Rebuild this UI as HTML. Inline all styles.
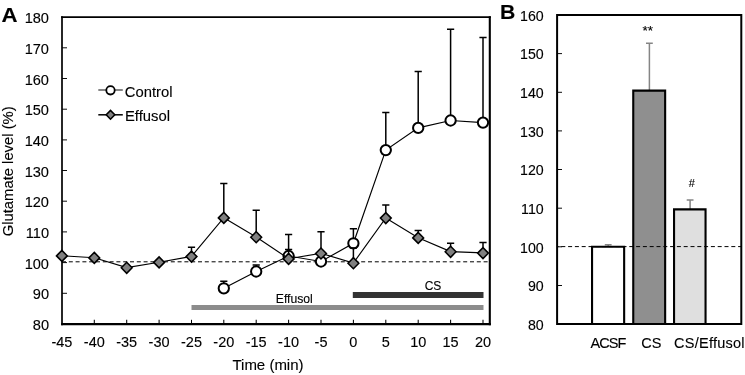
<!DOCTYPE html>
<html><head><meta charset="utf-8"><title>Glutamate level</title>
<style>
html,body{margin:0;padding:0;background:#fff;}
body{width:745px;height:375px;overflow:hidden;}
svg{display:block;}
text{font-family:"Liberation Sans",sans-serif;fill:#000;stroke:#000;stroke-width:0.12px;}
</style></head><body>
<svg width="745" height="375" viewBox="0 0 745 375">
<rect width="745" height="375" fill="#fff"/>
<g id="panelA">
<rect x="191.5" y="305" width="292" height="5" fill="#8c8c8c"/>
<rect x="352.8" y="292" width="130.7" height="6" fill="#333"/>
<text x="433" y="290" font-size="12" text-anchor="middle">CS</text>
<text x="294.3" y="302.6" font-size="12.2" text-anchor="middle">Effusol</text>
<line x1="62" y1="261.8" x2="489" y2="261.8" stroke="#000" stroke-width="1" stroke-dasharray="4,2.8"/>
<line x1="62" y1="293.3" x2="67" y2="293.3" stroke="#000" stroke-width="0.95"/>
<line x1="62" y1="262.6" x2="67" y2="262.6" stroke="#000" stroke-width="0.95"/>
<line x1="62" y1="231.9" x2="67" y2="231.9" stroke="#000" stroke-width="0.95"/>
<line x1="62" y1="201.2" x2="67" y2="201.2" stroke="#000" stroke-width="0.95"/>
<line x1="62" y1="170.5" x2="67" y2="170.5" stroke="#000" stroke-width="0.95"/>
<line x1="62" y1="139.9" x2="67" y2="139.9" stroke="#000" stroke-width="0.95"/>
<line x1="62" y1="109.2" x2="67" y2="109.2" stroke="#000" stroke-width="0.95"/>
<line x1="62" y1="78.5" x2="67" y2="78.5" stroke="#000" stroke-width="0.95"/>
<line x1="62" y1="47.8" x2="67" y2="47.8" stroke="#000" stroke-width="0.95"/>
<line x1="94.3" y1="324" x2="94.3" y2="319.8" stroke="#000" stroke-width="1.05"/>
<line x1="126.7" y1="324" x2="126.7" y2="319.8" stroke="#000" stroke-width="1.05"/>
<line x1="159.1" y1="324" x2="159.1" y2="319.8" stroke="#000" stroke-width="1.05"/>
<line x1="191.5" y1="324" x2="191.5" y2="319.8" stroke="#000" stroke-width="1.05"/>
<line x1="223.8" y1="324" x2="223.8" y2="319.8" stroke="#000" stroke-width="1.05"/>
<line x1="256.2" y1="324" x2="256.2" y2="319.8" stroke="#000" stroke-width="1.05"/>
<line x1="288.6" y1="324" x2="288.6" y2="319.8" stroke="#000" stroke-width="1.05"/>
<line x1="321.0" y1="324" x2="321.0" y2="319.8" stroke="#000" stroke-width="1.05"/>
<line x1="353.4" y1="324" x2="353.4" y2="319.8" stroke="#000" stroke-width="1.05"/>
<line x1="385.8" y1="324" x2="385.8" y2="319.8" stroke="#000" stroke-width="1.05"/>
<line x1="418.2" y1="324" x2="418.2" y2="319.8" stroke="#000" stroke-width="1.05"/>
<line x1="450.6" y1="324" x2="450.6" y2="319.8" stroke="#000" stroke-width="1.05"/>
<line x1="483.0" y1="324" x2="483.0" y2="319.8" stroke="#000" stroke-width="1.05"/>
<path d="M62,16.3 V325.2" fill="none" stroke="#000" stroke-width="1.7"/><path d="M61.15,17.1 H490.85" fill="none" stroke="#000" stroke-width="1.6"/><path d="M61.15,324.15 H490.85" fill="none" stroke="#000" stroke-width="2.1"/><path d="M489.8,16.3 V325.2" fill="none" stroke="#000" stroke-width="2.1"/>
<path d="M223.8,288.3 V281.2 M220.2,281.2 H227.4" fill="none" stroke="#000" stroke-width="1.5"/>
<path d="M256.2,271.5 V265.1 M252.6,265.1 H259.8" fill="none" stroke="#000" stroke-width="1.5"/>
<path d="M288.6,256.0 V249.6 M285.0,249.6 H292.2" fill="none" stroke="#000" stroke-width="1.5"/>
<path d="M353.4,243.3 V228.7 M349.8,228.7 H357.0" fill="none" stroke="#000" stroke-width="1.5"/>
<path d="M385.8,150.1 V112.6 M382.2,112.6 H389.4" fill="none" stroke="#000" stroke-width="1.5"/>
<path d="M418.2,127.9 V71.6 M414.6,71.6 H421.8" fill="none" stroke="#000" stroke-width="1.5"/>
<path d="M450.6,120.5 V29.3 M447.0,29.3 H454.2" fill="none" stroke="#000" stroke-width="1.5"/>
<path d="M483.0,122.6 V37.5 M479.4,37.5 H486.6" fill="none" stroke="#000" stroke-width="1.5"/>
<polyline points="223.8,288.3 256.2,271.5 288.6,256.0 321.0,261.5 353.4,243.3 385.8,150.1 418.2,127.9 450.6,120.5 483.0,122.6" fill="none" stroke="#000" stroke-width="1.15"/>
<circle cx="223.8" cy="288.3" r="5.15" fill="#fff" stroke="#000" stroke-width="2"/>
<circle cx="256.2" cy="271.5" r="5.15" fill="#fff" stroke="#000" stroke-width="2"/>
<circle cx="288.6" cy="256.0" r="5.15" fill="#fff" stroke="#000" stroke-width="2"/>
<circle cx="321.0" cy="261.5" r="5.15" fill="#fff" stroke="#000" stroke-width="2"/>
<circle cx="353.4" cy="243.3" r="5.15" fill="#fff" stroke="#000" stroke-width="2"/>
<circle cx="385.8" cy="150.1" r="5.15" fill="#fff" stroke="#000" stroke-width="2"/>
<circle cx="418.2" cy="127.9" r="5.15" fill="#fff" stroke="#000" stroke-width="2"/>
<circle cx="450.6" cy="120.5" r="5.15" fill="#fff" stroke="#000" stroke-width="2"/>
<circle cx="483.0" cy="122.6" r="5.15" fill="#fff" stroke="#000" stroke-width="2"/>
<path d="M191.5,256.4 V247.3 M187.9,247.3 H195.1" fill="none" stroke="#000" stroke-width="1.5"/>
<path d="M223.8,217.7 V183.5 M220.2,183.5 H227.4" fill="none" stroke="#000" stroke-width="1.5"/>
<path d="M256.2,237.0 V210.2 M252.6,210.2 H259.8" fill="none" stroke="#000" stroke-width="1.5"/>
<path d="M288.6,258.7 V234.5 M285.0,234.5 H292.2" fill="none" stroke="#000" stroke-width="1.5"/>
<path d="M321.0,253.3 V231.7 M317.4,231.7 H324.6" fill="none" stroke="#000" stroke-width="1.5"/>
<path d="M353.4,263.0 V248.0 M349.8,248.0 H357.0" fill="none" stroke="#000" stroke-width="1.5"/>
<path d="M385.8,217.9 V205.0 M382.2,205.0 H389.4" fill="none" stroke="#000" stroke-width="1.5"/>
<path d="M418.2,237.7 V230.4 M414.6,230.4 H421.8" fill="none" stroke="#000" stroke-width="1.5"/>
<path d="M450.6,251.6 V243.3 M447.0,243.3 H454.2" fill="none" stroke="#000" stroke-width="1.5"/>
<path d="M483.0,252.9 V242.6 M479.4,242.6 H486.6" fill="none" stroke="#000" stroke-width="1.5"/>
<polyline points="61.9,255.7 94.3,257.7 126.7,267.6 159.1,262.2 191.5,256.4 223.8,217.7 256.2,237.0 288.6,258.7 321.0,253.3 353.4,263.0 385.8,217.9 418.2,237.7 450.6,251.6 483.0,252.9" fill="none" stroke="#000" stroke-width="1.15"/>
<path d="M56.5,255.9 L61.9,250.4 L67.3,255.9 L61.9,261.4 Z" fill="#808080" stroke="#000" stroke-width="1.55"/>
<path d="M88.9,257.9 L94.3,252.4 L99.7,257.9 L94.3,263.4 Z" fill="#808080" stroke="#000" stroke-width="1.55"/>
<path d="M121.3,267.8 L126.7,262.3 L132.1,267.8 L126.7,273.3 Z" fill="#808080" stroke="#000" stroke-width="1.55"/>
<path d="M153.7,262.4 L159.1,256.9 L164.5,262.4 L159.1,267.9 Z" fill="#808080" stroke="#000" stroke-width="1.55"/>
<path d="M186.1,256.6 L191.5,251.1 L196.9,256.6 L191.5,262.1 Z" fill="#808080" stroke="#000" stroke-width="1.55"/>
<path d="M218.4,217.9 L223.8,212.4 L229.2,217.9 L223.8,223.4 Z" fill="#808080" stroke="#000" stroke-width="1.55"/>
<path d="M250.8,237.2 L256.2,231.7 L261.6,237.2 L256.2,242.7 Z" fill="#808080" stroke="#000" stroke-width="1.55"/>
<path d="M283.2,258.9 L288.6,253.4 L294.0,258.9 L288.6,264.4 Z" fill="#808080" stroke="#000" stroke-width="1.55"/>
<path d="M315.6,253.5 L321.0,248.0 L326.4,253.5 L321.0,259.0 Z" fill="#808080" stroke="#000" stroke-width="1.55"/>
<path d="M348.0,263.2 L353.4,257.7 L358.8,263.2 L353.4,268.7 Z" fill="#808080" stroke="#000" stroke-width="1.55"/>
<path d="M380.4,218.1 L385.8,212.6 L391.2,218.1 L385.8,223.6 Z" fill="#808080" stroke="#000" stroke-width="1.55"/>
<path d="M412.8,237.9 L418.2,232.4 L423.6,237.9 L418.2,243.4 Z" fill="#808080" stroke="#000" stroke-width="1.55"/>
<path d="M445.2,251.8 L450.6,246.3 L456.0,251.8 L450.6,257.3 Z" fill="#808080" stroke="#000" stroke-width="1.55"/>
<path d="M477.6,253.1 L483.0,247.6 L488.4,253.1 L483.0,258.6 Z" fill="#808080" stroke="#000" stroke-width="1.55"/>
<line x1="98.3" y1="90" x2="122.8" y2="90" stroke="#222" stroke-width="1.1"/>
<circle cx="110.5" cy="90.3" r="4.2" fill="#fff" stroke="#000" stroke-width="1.8"/>
<text x="124.8" y="96.6" font-size="14.8">Control</text>
<line x1="98.3" y1="114.8" x2="122.8" y2="114.8" stroke="#000" stroke-width="1.5"/>
<path d="M106.2,114.8 L110.5,110.4 L114.8,114.8 L110.5,119.2 Z" fill="#808080" stroke="#000" stroke-width="1.55"/>
<text x="125" y="121.3" font-size="14.8">Effusol</text>
<text x="49" y="330.0" font-size="14.6" text-anchor="end">80</text>
<text x="49" y="299.3" font-size="14.6" text-anchor="end">90</text>
<text x="49" y="268.6" font-size="14.6" text-anchor="end">100</text>
<text x="49" y="237.9" font-size="14.6" text-anchor="end">110</text>
<text x="49" y="207.2" font-size="14.6" text-anchor="end">120</text>
<text x="49" y="176.5" font-size="14.6" text-anchor="end">130</text>
<text x="49" y="145.9" font-size="14.6" text-anchor="end">140</text>
<text x="49" y="115.2" font-size="14.6" text-anchor="end">150</text>
<text x="49" y="84.5" font-size="14.6" text-anchor="end">160</text>
<text x="49" y="53.8" font-size="14.6" text-anchor="end">170</text>
<text x="49" y="23.1" font-size="14.6" text-anchor="end">180</text>
<text x="61.9" y="347.4" font-size="14.5" text-anchor="middle">-45</text>
<text x="94.3" y="347.4" font-size="14.5" text-anchor="middle">-40</text>
<text x="126.7" y="347.4" font-size="14.5" text-anchor="middle">-35</text>
<text x="159.1" y="347.4" font-size="14.5" text-anchor="middle">-30</text>
<text x="191.5" y="347.4" font-size="14.5" text-anchor="middle">-25</text>
<text x="223.8" y="347.4" font-size="14.5" text-anchor="middle">-20</text>
<text x="256.2" y="347.4" font-size="14.5" text-anchor="middle">-15</text>
<text x="288.6" y="347.4" font-size="14.5" text-anchor="middle">-10</text>
<text x="321.0" y="347.4" font-size="14.5" text-anchor="middle">-5</text>
<text x="353.4" y="347.4" font-size="14.5" text-anchor="middle">0</text>
<text x="385.8" y="347.4" font-size="14.5" text-anchor="middle">5</text>
<text x="418.2" y="347.4" font-size="14.5" text-anchor="middle">10</text>
<text x="450.6" y="347.4" font-size="14.5" text-anchor="middle">15</text>
<text x="483.0" y="347.4" font-size="14.5" text-anchor="middle">20</text>
<text x="268" y="370.1" font-size="15" text-anchor="middle">Time (min)</text>
<text transform="translate(13,171.3) rotate(-90)" font-size="14.8" text-anchor="middle">Glutamate level (%)</text>
<text transform="translate(1.4,22.4) scale(1.1,1)" font-size="20.2" font-weight="bold">A</text>
</g>
<g id="panelB">
<line x1="557" y1="285.5" x2="562" y2="285.5" stroke="#000" stroke-width="0.95"/>
<line x1="557" y1="246.8" x2="562" y2="246.8" stroke="#000" stroke-width="0.95"/>
<line x1="557" y1="208.2" x2="562" y2="208.2" stroke="#000" stroke-width="0.95"/>
<line x1="557" y1="169.5" x2="562" y2="169.5" stroke="#000" stroke-width="0.95"/>
<line x1="557" y1="130.9" x2="562" y2="130.9" stroke="#000" stroke-width="0.95"/>
<line x1="557" y1="92.3" x2="562" y2="92.3" stroke="#000" stroke-width="0.95"/>
<line x1="557" y1="53.6" x2="562" y2="53.6" stroke="#000" stroke-width="0.95"/>
<path d="M608.2,246.7 V244.8 M604.8,244.8 H611.6" fill="none" stroke="#858585" stroke-width="1.5"/>
<path d="M649.4,90.3 V43.3 M646.0,43.3 H652.8" fill="none" stroke="#858585" stroke-width="1.5"/>
<path d="M690.1,209.1 V200.0 M686.7,200.0 H693.5" fill="none" stroke="#858585" stroke-width="1.5"/>
<rect x="592.05" y="246.75" width="32.10" height="77.35" fill="#fff"/>
<path d="M592.05,324.1 V246.75 H624.15 V324.1" fill="none" stroke="#000" stroke-width="2.1"/>
<rect x="633.25" y="90.65" width="31.90" height="233.45" fill="#8f8f8f"/>
<path d="M633.25,324.1 V90.65 H665.15 V324.1" fill="none" stroke="#000" stroke-width="2.1"/>
<rect x="674.05" y="209.35" width="31.50" height="114.75" fill="#dfdfdf"/>
<path d="M674.05,324.1 V209.35 H705.55 V324.1" fill="none" stroke="#000" stroke-width="2.1"/>
<line x1="557" y1="246.6" x2="741" y2="246.6" stroke="#000" stroke-width="1" stroke-dasharray="4,2.8" stroke-dashoffset="2.5"/>
<path d="M557.1,14.1 V324.1 H742.3 M556.1,15 H741.3 V325.1" fill="none" stroke="#000" stroke-width="2"/>
<text x="543.7" y="329.9" font-size="14.2" text-anchor="end">80</text>
<text x="543.7" y="291.3" font-size="14.2" text-anchor="end">90</text>
<text x="543.7" y="252.6" font-size="14.2" text-anchor="end">100</text>
<text x="543.7" y="214.0" font-size="14.2" text-anchor="end">110</text>
<text x="543.7" y="175.3" font-size="14.2" text-anchor="end">120</text>
<text x="543.7" y="136.7" font-size="14.2" text-anchor="end">130</text>
<text x="543.7" y="98.1" font-size="14.2" text-anchor="end">140</text>
<text x="543.7" y="59.4" font-size="14.2" text-anchor="end">150</text>
<text x="543.7" y="20.8" font-size="14.2" text-anchor="end">160</text>
<text x="590.5" y="347.9" font-size="14.5" letter-spacing="-0.9">ACSF</text>
<text x="651.4" y="347.9" font-size="14.5" text-anchor="middle">CS</text>
<text x="674" y="347.9" font-size="14.5" letter-spacing="0.26">CS/Effusol</text>
<text x="647.7" y="35.4" font-size="13.6" text-anchor="middle">**</text>
<text x="691.8" y="186.9" font-size="11" text-anchor="middle">#</text>
<text transform="translate(500,18.6) scale(1.05,1)" font-size="20.2" font-weight="bold">B</text>
</g>
</svg>
</body></html>
